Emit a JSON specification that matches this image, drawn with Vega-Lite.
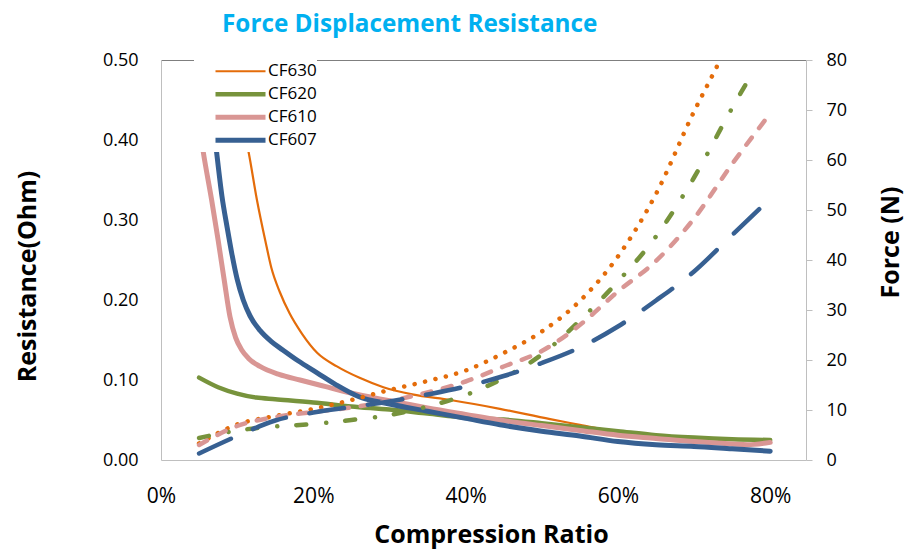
{
  "$schema": "https://vega.github.io/schema/vega-lite/v6.json",
  "width": 645,
  "height": 400,
  "autosize": {"type": "none"},
  "padding": {"left": 161, "top": 60, "right": 116, "bottom": 96},
  "background": "white",
  "title": {"text": "Force Displacement Resistance", "color": "#00B0F0", "font": "Open Sans", "fontSize": 24.3, "fontWeight": "bold", "anchor": "start", "frame": "group", "dx": 61, "offset": -5, "baseline": "alphabetic"},
  "config": {"view": {"stroke": null}, "axis": {"grid": false, "labelFont": "Open Sans", "titleFont": "Open Sans", "labelColor": "#000000", "titleColor": "#000000"}},
  "datasets": {
    "res": [
      {"series": "CF630", "ratio": 0.05, "resistance": 0.9},
      {"series": "CF630", "ratio": 0.075, "resistance": 0.6},
      {"series": "CF630", "ratio": 0.1, "resistance": 0.445},
      {"series": "CF630", "ratio": 0.115, "resistance": 0.385},
      {"series": "CF630", "ratio": 0.126, "resistance": 0.325},
      {"series": "CF630", "ratio": 0.137, "resistance": 0.274},
      {"series": "CF630", "ratio": 0.145, "resistance": 0.24},
      {"series": "CF630", "ratio": 0.156, "resistance": 0.21},
      {"series": "CF630", "ratio": 0.169, "resistance": 0.183},
      {"series": "CF630", "ratio": 0.185, "resistance": 0.158},
      {"series": "CF630", "ratio": 0.205, "resistance": 0.134},
      {"series": "CF630", "ratio": 0.231, "resistance": 0.117},
      {"series": "CF630", "ratio": 0.26, "resistance": 0.103},
      {"series": "CF630", "ratio": 0.292, "resistance": 0.091},
      {"series": "CF630", "ratio": 0.33, "resistance": 0.082},
      {"series": "CF630", "ratio": 0.38, "resistance": 0.075},
      {"series": "CF630", "ratio": 0.445, "resistance": 0.064},
      {"series": "CF630", "ratio": 0.511, "resistance": 0.051},
      {"series": "CF630", "ratio": 0.55, "resistance": 0.044},
      {"series": "CF630", "ratio": 0.6, "resistance": 0.035},
      {"series": "CF630", "ratio": 0.65, "resistance": 0.031},
      {"series": "CF630", "ratio": 0.7, "resistance": 0.028},
      {"series": "CF630", "ratio": 0.75, "resistance": 0.026},
      {"series": "CF630", "ratio": 0.8, "resistance": 0.025},
      {"series": "CF620", "ratio": 0.05, "resistance": 0.103},
      {"series": "CF620", "ratio": 0.075, "resistance": 0.091},
      {"series": "CF620", "ratio": 0.1, "resistance": 0.083},
      {"series": "CF620", "ratio": 0.125, "resistance": 0.078},
      {"series": "CF620", "ratio": 0.15, "resistance": 0.076},
      {"series": "CF620", "ratio": 0.2, "resistance": 0.072},
      {"series": "CF620", "ratio": 0.25, "resistance": 0.067},
      {"series": "CF620", "ratio": 0.3, "resistance": 0.063},
      {"series": "CF620", "ratio": 0.35, "resistance": 0.058},
      {"series": "CF620", "ratio": 0.4, "resistance": 0.053},
      {"series": "CF620", "ratio": 0.45, "resistance": 0.0505},
      {"series": "CF620", "ratio": 0.5, "resistance": 0.046},
      {"series": "CF620", "ratio": 0.55, "resistance": 0.041},
      {"series": "CF620", "ratio": 0.6, "resistance": 0.036},
      {"series": "CF620", "ratio": 0.65, "resistance": 0.031},
      {"series": "CF620", "ratio": 0.7, "resistance": 0.028},
      {"series": "CF620", "ratio": 0.75, "resistance": 0.026},
      {"series": "CF620", "ratio": 0.8, "resistance": 0.025},
      {"series": "CF610", "ratio": 0.05, "resistance": 0.42},
      {"series": "CF610", "ratio": 0.0555, "resistance": 0.385},
      {"series": "CF610", "ratio": 0.0665, "resistance": 0.325},
      {"series": "CF610", "ratio": 0.075, "resistance": 0.275},
      {"series": "CF610", "ratio": 0.083, "resistance": 0.225},
      {"series": "CF610", "ratio": 0.0906, "resistance": 0.179},
      {"series": "CF610", "ratio": 0.098, "resistance": 0.153},
      {"series": "CF610", "ratio": 0.106, "resistance": 0.1375},
      {"series": "CF610", "ratio": 0.115, "resistance": 0.127},
      {"series": "CF610", "ratio": 0.13, "resistance": 0.117},
      {"series": "CF610", "ratio": 0.155, "resistance": 0.107},
      {"series": "CF610", "ratio": 0.1825, "resistance": 0.1},
      {"series": "CF610", "ratio": 0.215, "resistance": 0.092},
      {"series": "CF610", "ratio": 0.248, "resistance": 0.084},
      {"series": "CF610", "ratio": 0.3, "resistance": 0.074},
      {"series": "CF610", "ratio": 0.35, "resistance": 0.065},
      {"series": "CF610", "ratio": 0.4, "resistance": 0.057},
      {"series": "CF610", "ratio": 0.445, "resistance": 0.05},
      {"series": "CF610", "ratio": 0.5, "resistance": 0.043},
      {"series": "CF610", "ratio": 0.55, "resistance": 0.037},
      {"series": "CF610", "ratio": 0.6, "resistance": 0.031},
      {"series": "CF610", "ratio": 0.65, "resistance": 0.027},
      {"series": "CF610", "ratio": 0.7, "resistance": 0.023},
      {"series": "CF610", "ratio": 0.75, "resistance": 0.02},
      {"series": "CF610", "ratio": 0.77, "resistance": 0.019},
      {"series": "CF610", "ratio": 0.8, "resistance": 0.022},
      {"series": "CF607", "ratio": 0.05, "resistance": 0.62},
      {"series": "CF607", "ratio": 0.06, "resistance": 0.5},
      {"series": "CF607", "ratio": 0.073, "resistance": 0.385},
      {"series": "CF607", "ratio": 0.08, "resistance": 0.33},
      {"series": "CF607", "ratio": 0.087, "resistance": 0.29},
      {"series": "CF607", "ratio": 0.093, "resistance": 0.258},
      {"series": "CF607", "ratio": 0.1, "resistance": 0.226},
      {"series": "CF607", "ratio": 0.108, "resistance": 0.2},
      {"series": "CF607", "ratio": 0.117, "resistance": 0.18},
      {"series": "CF607", "ratio": 0.13, "resistance": 0.162},
      {"series": "CF607", "ratio": 0.145, "resistance": 0.148},
      {"series": "CF607", "ratio": 0.16, "resistance": 0.1375},
      {"series": "CF607", "ratio": 0.18, "resistance": 0.124},
      {"series": "CF607", "ratio": 0.205, "resistance": 0.109},
      {"series": "CF607", "ratio": 0.23, "resistance": 0.094},
      {"series": "CF607", "ratio": 0.26, "resistance": 0.079},
      {"series": "CF607", "ratio": 0.3, "resistance": 0.07},
      {"series": "CF607", "ratio": 0.35, "resistance": 0.061},
      {"series": "CF607", "ratio": 0.4, "resistance": 0.052},
      {"series": "CF607", "ratio": 0.445, "resistance": 0.044},
      {"series": "CF607", "ratio": 0.5, "resistance": 0.036},
      {"series": "CF607", "ratio": 0.55, "resistance": 0.03},
      {"series": "CF607", "ratio": 0.6, "resistance": 0.023},
      {"series": "CF607", "ratio": 0.65, "resistance": 0.019},
      {"series": "CF607", "ratio": 0.7, "resistance": 0.017},
      {"series": "CF607", "ratio": 0.75, "resistance": 0.014},
      {"series": "CF607", "ratio": 0.8, "resistance": 0.011}
    ],
    "force": [
      {"series": "CF630", "ratio": 0.05, "force": 3.3},
      {"series": "CF630", "ratio": 0.1, "force": 7.1},
      {"series": "CF630", "ratio": 0.15, "force": 8.8},
      {"series": "CF630", "ratio": 0.2, "force": 10.2},
      {"series": "CF630", "ratio": 0.25, "force": 12.0},
      {"series": "CF630", "ratio": 0.3, "force": 14.0},
      {"series": "CF630", "ratio": 0.35, "force": 15.8},
      {"series": "CF630", "ratio": 0.4, "force": 17.9},
      {"series": "CF630", "ratio": 0.45, "force": 21.4},
      {"series": "CF630", "ratio": 0.5, "force": 25.7},
      {"series": "CF630", "ratio": 0.55, "force": 31.8},
      {"series": "CF630", "ratio": 0.6, "force": 40.7},
      {"series": "CF630", "ratio": 0.65, "force": 53.2},
      {"series": "CF630", "ratio": 0.7, "force": 69.7},
      {"series": "CF630", "ratio": 0.73, "force": 78.7},
      {"series": "CF630", "ratio": 0.75, "force": 85.0},
      {"series": "CF620", "ratio": 0.05, "force": 4.4},
      {"series": "CF620", "ratio": 0.1, "force": 5.9},
      {"series": "CF620", "ratio": 0.15, "force": 6.7},
      {"series": "CF620", "ratio": 0.2, "force": 7.2},
      {"series": "CF620", "ratio": 0.25, "force": 8.0},
      {"series": "CF620", "ratio": 0.3, "force": 9.0},
      {"series": "CF620", "ratio": 0.35, "force": 10.7},
      {"series": "CF620", "ratio": 0.4, "force": 13.0},
      {"series": "CF620", "ratio": 0.45, "force": 16.4},
      {"series": "CF620", "ratio": 0.5, "force": 21.1},
      {"series": "CF620", "ratio": 0.55, "force": 27.9},
      {"series": "CF620", "ratio": 0.6, "force": 35.7},
      {"series": "CF620", "ratio": 0.65, "force": 44.7},
      {"series": "CF620", "ratio": 0.7, "force": 56.5},
      {"series": "CF620", "ratio": 0.75, "force": 70.4},
      {"series": "CF620", "ratio": 0.78, "force": 78.3},
      {"series": "CF610", "ratio": 0.05, "force": 3.0},
      {"series": "CF610", "ratio": 0.1, "force": 6.8},
      {"series": "CF610", "ratio": 0.15, "force": 8.6},
      {"series": "CF610", "ratio": 0.2, "force": 9.6},
      {"series": "CF610", "ratio": 0.25, "force": 10.5},
      {"series": "CF610", "ratio": 0.3, "force": 11.8},
      {"series": "CF610", "ratio": 0.35, "force": 13.5},
      {"series": "CF610", "ratio": 0.4, "force": 15.7},
      {"series": "CF610", "ratio": 0.45, "force": 18.7},
      {"series": "CF610", "ratio": 0.5, "force": 21.8},
      {"series": "CF610", "ratio": 0.55, "force": 27.0},
      {"series": "CF610", "ratio": 0.6, "force": 33.7},
      {"series": "CF610", "ratio": 0.65, "force": 39.8},
      {"series": "CF610", "ratio": 0.7, "force": 48.3},
      {"series": "CF610", "ratio": 0.75, "force": 59.2},
      {"series": "CF610", "ratio": 0.8, "force": 69.3},
      {"series": "CF607", "ratio": 0.05, "force": 1.3},
      {"series": "CF607", "ratio": 0.1, "force": 4.8},
      {"series": "CF607", "ratio": 0.15, "force": 7.9},
      {"series": "CF607", "ratio": 0.2, "force": 9.5},
      {"series": "CF607", "ratio": 0.25, "force": 10.6},
      {"series": "CF607", "ratio": 0.3, "force": 11.7},
      {"series": "CF607", "ratio": 0.35, "force": 13.1},
      {"series": "CF607", "ratio": 0.4, "force": 14.7},
      {"series": "CF607", "ratio": 0.45, "force": 16.8},
      {"series": "CF607", "ratio": 0.5, "force": 19.4},
      {"series": "CF607", "ratio": 0.55, "force": 22.5},
      {"series": "CF607", "ratio": 0.6, "force": 26.7},
      {"series": "CF607", "ratio": 0.65, "force": 31.9},
      {"series": "CF607", "ratio": 0.7, "force": 37.7},
      {"series": "CF607", "ratio": 0.75, "force": 45.0},
      {"series": "CF607", "ratio": 0.79, "force": 50.8}
    ]
  },
  "layer": [
    {
      "data": {"name": "res"},
      "mark": {"type": "line", "interpolate": "monotone", "clip": true, "strokeCap": "round"},
      "encoding": {
        "x": {"field": "ratio", "type": "quantitative", "scale": {"domain": [0, 0.847], "nice": false, "zero": false},
          "axis": {"orient": "bottom", "values": [0, 0.2, 0.4, 0.6, 0.8], "format": ".0%", "domainColor": "#BFBFBF", "ticks": false, "tickSize": 0, "labelFlush": false, "labelFontSize": 21, "labelPadding": 42, "labelBaseline": "alphabetic", "title": "Compression Ratio", "titleFontSize": 25, "titleFontWeight": "bold", "titleX": 330, "titleY": 82, "titleBaseline": "alphabetic", "titleAlign": "center"}},
        "y": {"field": "resistance", "type": "quantitative", "scale": {"domain": [0, 0.5], "nice": false},
          "axis": {"orient": "left", "values": [0, 0.1, 0.2, 0.3, 0.4, 0.5], "format": ".2f", "domainColor": "#BFBFBF", "ticks": false, "tickSize": 0, "labelPadding": 23, "labelFontSize": 18, "title": "Resistance(Ohm)", "titleFontSize": 25, "titleFontWeight": "bold", "titleAngle": 270, "titleX": -134, "titleY": 216, "titleAlign": "center", "titleBaseline": "middle"}},
        "color": {"field": "series", "type": "nominal", "scale": {"domain": ["CF630", "CF620", "CF610", "CF607"], "range": ["#E46C0A", "#77933C", "#D99694", "#376092"]},
          "legend": {"orient": "none", "legendX": 33, "legendY": 0, "title": null, "symbolType": "stroke", "symbolSize": 2500, "clipHeight": 22.5, "labelFont": "Open Sans", "labelFontSize": 17, "labelColor": "#000000", "labelOffset": 0, "padding": 0, "fillColor": "white", "symbolOffset": 19, "rowPadding": 0}},
        "strokeWidth": {"field": "series", "type": "nominal", "scale": {"type": "ordinal", "domain": ["CF630", "CF620", "CF610", "CF607"], "range": [2.2, 4.5, 5, 5]},
          "legend": {"orient": "none", "legendX": 33, "legendY": 0, "title": null, "symbolType": "stroke", "symbolSize": 2500, "clipHeight": 22.5, "labelFont": "Open Sans", "labelFontSize": 17, "labelColor": "#000000", "labelOffset": 0, "padding": 0, "fillColor": "white", "symbolOffset": 19, "rowPadding": 0}}
      }
    },
    {
      "data": {"name": "force"},
      "mark": {"type": "line", "interpolate": "monotone", "clip": true, "strokeCap": "round", "strokeWidth": 4.5},
      "encoding": {
        "x": {"field": "ratio", "type": "quantitative",
          "axis": {"orient": "top", "domainColor": "#7F7F7F", "labels": false, "ticks": false, "title": null}},
        "y": {"field": "force", "type": "quantitative", "scale": {"domain": [0, 80], "nice": false},
          "axis": {"orient": "right", "values": [0, 10, 20, 30, 40, 50, 60, 70, 80], "domainColor": "#BFBFBF", "tickColor": "#BFBFBF", "tickSize": 6, "labelPadding": 14, "labelFontSize": 18, "title": "Force (N)", "titleFontSize": 25, "titleFontWeight": "bold", "titleAngle": 270, "titleX": 84, "titleY": 182, "titleAlign": "center", "titleBaseline": "middle"}},
        "color": {"field": "series", "type": "nominal", "legend": null},
        "strokeDash": {"field": "series", "type": "nominal", "scale": {"range": [[35, 24], [9, 12], [10, 20, 0.1, 19], [0.1, 10.6]]}, "legend": null}
      }
    }
  ],
  "resolve": {"scale": {"y": "independent"}, "axis": {"x": "independent"}}
}
